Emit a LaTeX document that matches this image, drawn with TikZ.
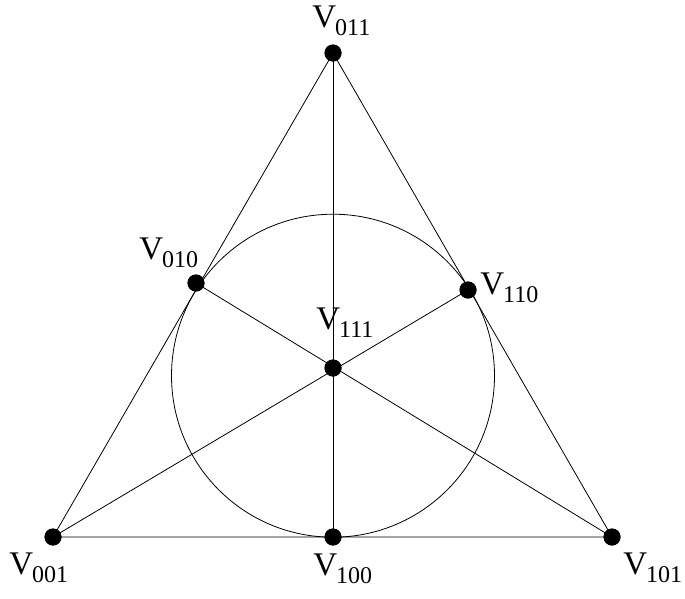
\documentclass[tikz,border=0pt]{standalone}
\usepackage{fontspec}
\setmainfont{Liberation Serif}
\usetikzlibrary{calc,positioning}

\tikzset{
  pt/.style={circle, fill=black, inner sep=0pt, minimum size=17pt},
  vlab/.style={anchor=base west, inner sep=0pt, font=\fontsize{33}{35}\selectfont},
}
\newcommand{\vname}[1]{V\kern-1pt\raisebox{-8pt}{\fontsize{24}{24}\selectfont #1}}

\begin{document}
\begin{tikzpicture}[x=1pt, y=-1pt, line width=0.8pt]
  \useasboundingbox[fill=white] (0,0) rectangle (685,598);

  % points of the plane
  \node[pt] (v011) at (333,53) {};
  \node[pt] (v001) at (53,537) {};
  \node[pt] (v101) at (612,537) {};
  \node[pt] (v100) at (333,537) {};
  \node[pt] (v010) at (196,283) {};
  \node[pt] (v110) at (468,290) {};
  \node[pt] (v111) at (333,368) {};

  % lines
  \draw (v001.center) -- (v101.center) -- (v011.center) -- cycle;
  \draw (v011.center) -- (v100.center);
  \draw (v001.center) -- (v110.center);
  \draw (v101.center) -- (v010.center);
  \draw (333,375.7) circle (161.5);

  % redraw dots on top
  \foreach \p in {v011,v001,v101,v100,v010,v110,v111}
    \fill (\p) circle (8.5);

  % labels
  \node[vlab] (l011) at (312,27) {\vname{011}};
  \node[vlab] (l010) at (139,259) {\vname{010}};
  \node[vlab] (l110) at (480,294) {\vname{110}};
  \node[vlab] (l111) at (316,329) {\vname{111}};
  \node[vlab] (l001) at (9,574) {\vname{001}};
  \node[vlab] (l100) at (313,575) {\vname{100}};
  \node[vlab] (l101) at (623,574) {\vname{101}};
\end{tikzpicture}
\end{document}
